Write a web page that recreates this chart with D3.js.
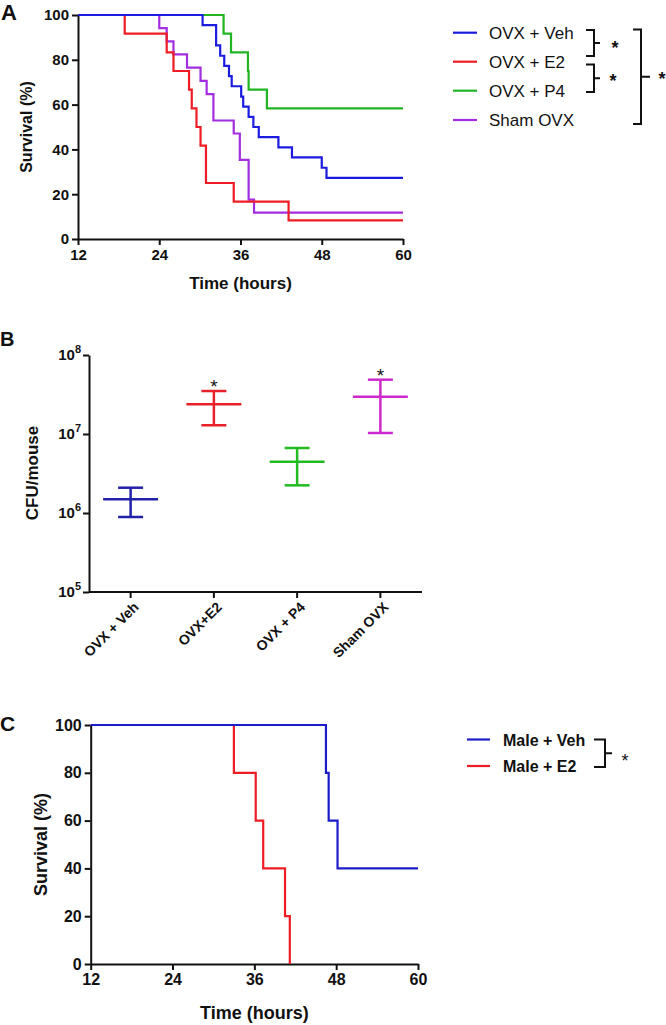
<!DOCTYPE html>
<html><head><meta charset="utf-8">
<script src="https://cdn.jsdelivr.net/npm/d3@7"></script>
<style>
body{margin:0;background:#fff}
svg{display:block}
text{font-family:"Liberation Sans",Arial,Helvetica,sans-serif;fill:#111}
</style></head><body>
<svg id="chart" width="666" height="1025"></svg>
<script>
// ---------- DATA ----------
const hourTicks = [12, 24, 36, 48, 60];
const survivalTicks = [0, 20, 40, 60, 80, 100];

// Panel A: Kaplan–Meier steps (time in hours, survival in %)
const groupsA = ["OVX + Veh", "OVX + E2", "OVX + P4", "Sham OVX"];
const vehT  = [12, 30.4, 32.4, 33.0, 33.6, 34.3, 34.7, 36.1, 36.4, 37.2, 37.9, 38.7, 41.6, 43.6, 48.0, 48.7, 60];
const vehS  = [100, 95.5, 86.4, 81.8, 77.3, 72.7, 68.2, 63.6, 59.1, 54.5, 50, 45.5, 40.9, 36.4, 31.8, 27.3, 27.3];
const e2T   = [12, 18.9, 25.1, 26.1, 28.4, 28.8, 29.5, 30.1, 30.9, 35.0, 43.1, 60];
const e2S   = [100, 91.7, 83.3, 75, 66.7, 58.3, 50, 41.7, 25, 16.7, 8.3, 8.3];
const p4T   = [12, 33.5, 34.6, 37.1, 37.2, 39.9, 60];
const p4S   = [100, 91.7, 83.3, 75, 66.7, 58.3, 58.3];
const shamT = [12, 24.0, 25.1, 26.1, 28.1, 30.1, 31.0, 32.0, 35.0, 35.9, 37.2, 38.0, 60];
const shamS = [100, 94.1, 88.2, 82.4, 76.5, 70.6, 64.7, 52.9, 47.1, 35.3, 17.6, 11.8, 11.8];

// Panel B: CFU/mouse (mean with upper/lower error)
const cfuGroups = ["OVX + Veh", "OVX+E2", "OVX + P4", "Sham OVX"];
const cfuMean  = [1.49e6, 2.38e7, 4.47e6, 2.97e7];
const cfuUpper = [2.09e6, 3.5e7, 6.65e6, 4.87e7];
const cfuLower = [8.9e5, 1.29e7, 2.24e6, 1.03e7];
const cfuSig   = [false, true, false, true];
const cfuTicks = [1e5, 1e6, 1e7, 1e8];
const cfuExp   = ["5", "6", "7", "8"];

// Panel C
const groupsC = ["Male + Veh", "Male + E2"];
const maleVehT = [12, 46.5, 46.9, 48.2, 60];
const maleVehS = [100, 80, 60, 40, 40];
const maleE2T  = [12, 33.0, 36.2, 37.3, 40.5, 41.2];
const maleE2S  = [100, 80, 60, 40, 20, 0];

// ---------- DRAW ----------
const svg = d3.select("#chart");
const FONT = '"Liberation Sans",Arial,Helvetica,sans-serif';

function styleAxis(g, fs) {
  g.selectAll(".domain").attr("stroke", "#111").attr("stroke-width", 2);
  g.selectAll(".tick line").attr("stroke", "#111").attr("stroke-width", 2);
  g.selectAll(".tick text").attr("font-size", fs).attr("font-weight", "bold")
    .attr("font-family", FONT).attr("fill", "#1a1a1a");
}

function kmPanel(opt) {
  const x = d3.scaleLinear().domain([12, 60]).range([opt.x0, opt.x1]);
  const y = d3.scaleLinear().domain([0, 100]).range([opt.y0, opt.y1]);
  const gx = svg.append("g").attr("transform", `translate(0,${opt.y0})`)
    .call(d3.axisBottom(x).tickValues(hourTicks).tickSize(6).tickSizeOuter(0).tickPadding(4));
  styleAxis(gx, opt.tickFs);
  const gy = svg.append("g").attr("transform", `translate(${opt.x0},0)`)
    .call(d3.axisLeft(y).tickValues(survivalTicks).tickSize(6).tickSizeOuter(0).tickPadding(3));
  styleAxis(gy, opt.tickFs);
  const line = d3.line().x(d => x(d[0])).y(d => y(d[1])).curve(d3.curveStepAfter);
  opt.series.forEach(s => {
    svg.append("path").datum(s.t.map((t, i) => [t, s.s[i]]))
      .attr("d", line).attr("fill", "none").attr("stroke", s.color)
      .attr("stroke-width", 2.2).attr("stroke-linejoin", "miter");
  });
  svg.append("text").attr("x", (opt.x0 + opt.x1) / 2).attr("y", opt.xlabY)
    .attr("text-anchor", "middle").attr("font-weight", "bold").attr("font-size", opt.xlabFs)
    .text("Time (hours)");
  svg.append("text").attr("transform", `translate(${opt.ylabX},${(opt.y0 + opt.y1) / 2}) rotate(-90)`)
    .attr("text-anchor", "middle").attr("font-weight", "bold").attr("font-size", opt.ylabFs)
    .text("Survival (%)");
}

// Panel letters
svg.append("text").attr("x", 1).attr("y", 20).attr("font-size", 22).attr("font-weight", "bold").text("A");
svg.append("text").attr("x", 0).attr("y", 346).attr("font-size", 20).attr("font-weight", "bold").text("B");
svg.append("text").attr("x", 0).attr("y", 731).attr("font-size", 21).attr("font-weight", "bold").text("C");

// ---- Panel A ----
const colA = {veh: "#1c1ce0", e2: "#ee1c24", p4: "#22b422", sham: "#a22ee0"};
kmPanel({
  x0: 78, x1: 403, y0: 239, y1: 15, tickFs: 15, xlabY: 289, xlabFs: 17, ylabX: 32, ylabFs: 16,
  series: [
    {t: p4T, s: p4S, color: colA.p4},
    {t: shamT, s: shamS, color: colA.sham},
    {t: e2T, s: e2S, color: colA.e2},
    {t: vehT, s: vehS, color: colA.veh}
  ]
});

// Legend A
const legA = [colA.veh, colA.e2, colA.p4, colA.sham];
const rowA = [32.7, 61.7, 90.7, 120];
groupsA.forEach((g, i) => {
  svg.append("line").attr("x1", 453).attr("x2", 477).attr("y1", rowA[i]).attr("y2", rowA[i])
    .attr("stroke", legA[i]).attr("stroke-width", 2.2);
  svg.append("text").attr("x", 489).attr("y", rowA[i] + 6).attr("font-size", 17).text(g);
});
function bracket(xL, xR, yT, yB, tickLen) {
  const ym = (yT + yB) / 2;
  svg.append("path").attr("d", `M${xL},${yT}H${xR}V${yB}H${xL}M${xR},${ym}H${xR + tickLen}`)
    .attr("fill", "none").attr("stroke", "#111").attr("stroke-width", 2);
}
function star(x, y, fs) {
  svg.append("text").attr("x", x).attr("y", y + fs * 0.55).attr("text-anchor", "middle")
    .attr("font-size", fs).attr("font-weight", "bold").text("*");
}
bracket(586, 594, 30, 56, 6);
star(615, 44, 18);
bracket(586, 594, 64.5, 92, 6);
star(613, 77, 18);
bracket(633, 641, 29.5, 124, 9);
star(662, 75, 18);

// ---- Panel B ----
const xB = d3.scaleBand().domain(cfuGroups).range([89, 422]);
const yB = d3.scaleLog().domain([1e5, 1e8]).range([592, 355]);
const colB = ["#2222a8", "#e8202a", "#22bb22", "#cc2acc"];
const gxB = svg.append("g").attr("transform", "translate(0,592)")
  .call(d3.axisBottom(xB).tickSize(6).tickSizeOuter(0).tickFormat(""));
styleAxis(gxB, 13);
gxB.select(".domain").attr("d", "M89,0H422");
const gyB = svg.append("g").attr("transform", "translate(89,0)")
  .call(d3.axisLeft(yB).tickValues(cfuTicks).tickSize(6).tickSizeOuter(0).tickFormat(""));
styleAxis(gyB, 13);
cfuTicks.forEach((v, i) => {
  const t = svg.append("text").attr("x", 81).attr("y", yB(v) + 5).attr("text-anchor", "end")
    .attr("font-weight", "bold").attr("font-size", 15);
  t.append("tspan").text("10");
  t.append("tspan").attr("dy", -7).attr("font-size", 11).text(cfuExp[i]);
});
cfuGroups.forEach((g, i) => {
  const cx = xB(g) + xB.bandwidth() / 2;
  svg.append("text").attr("transform", `translate(${cx + 9},${608}) rotate(-45)`)
    .attr("text-anchor", "end").attr("font-weight", "bold").attr("font-size", 14).text(g);
  const bw = xB.bandwidth();
  const c = colB[i];
  const gg = svg.append("g").attr("stroke", c).attr("stroke-width", 2.5);
  gg.append("line").attr("x1", cx - bw * 0.33).attr("x2", cx + bw * 0.33)
    .attr("y1", yB(cfuMean[i])).attr("y2", yB(cfuMean[i]));
  gg.append("line").attr("x1", cx).attr("x2", cx)
    .attr("y1", yB(cfuUpper[i])).attr("y2", yB(cfuLower[i]));
  [cfuUpper[i], cfuLower[i]].forEach(v => {
    gg.append("line").attr("x1", cx - bw * 0.15).attr("x2", cx + bw * 0.15)
      .attr("y1", yB(v)).attr("y2", yB(v));
  });
  if (cfuSig[i]) {
    svg.append("text").attr("x", cx).attr("y", yB(cfuUpper[i]) + 2).attr("text-anchor", "middle")
      .attr("font-size", 19).text("*");
  }
});
svg.append("text").attr("transform", "translate(38,473) rotate(-90)")
  .attr("text-anchor", "middle").attr("font-weight", "bold").attr("font-size", 17).text("CFU/mouse");

// ---- Panel C ----
const colC = {veh: "#1c1cc8", e2: "#ee1c24"};
kmPanel({
  x0: 90.7, x1: 418, y0: 964, y1: 725, tickFs: 16, xlabY: 1019, xlabFs: 18, ylabX: 47, ylabFs: 18,
  series: [
    {t: maleE2T, s: maleE2S, color: colC.e2},
    {t: maleVehT, s: maleVehS, color: colC.veh}
  ]
});
const legC = [colC.veh, colC.e2];
const rowC = [739.5, 766];
groupsC.forEach((g, i) => {
  svg.append("line").attr("x1", 467).attr("x2", 490).attr("y1", rowC[i]).attr("y2", rowC[i])
    .attr("stroke", legC[i]).attr("stroke-width", 2.2);
  svg.append("text").attr("x", 503).attr("y", rowC[i] + 6).attr("font-size", 16)
    .attr("font-weight", "bold").text(g);
});
bracket(594, 605, 739.5, 767, 7);
svg.append("text").attr("x", 625).attr("y", 767).attr("text-anchor", "middle")
  .attr("font-size", 18).text("*");
</script>
</body></html>
